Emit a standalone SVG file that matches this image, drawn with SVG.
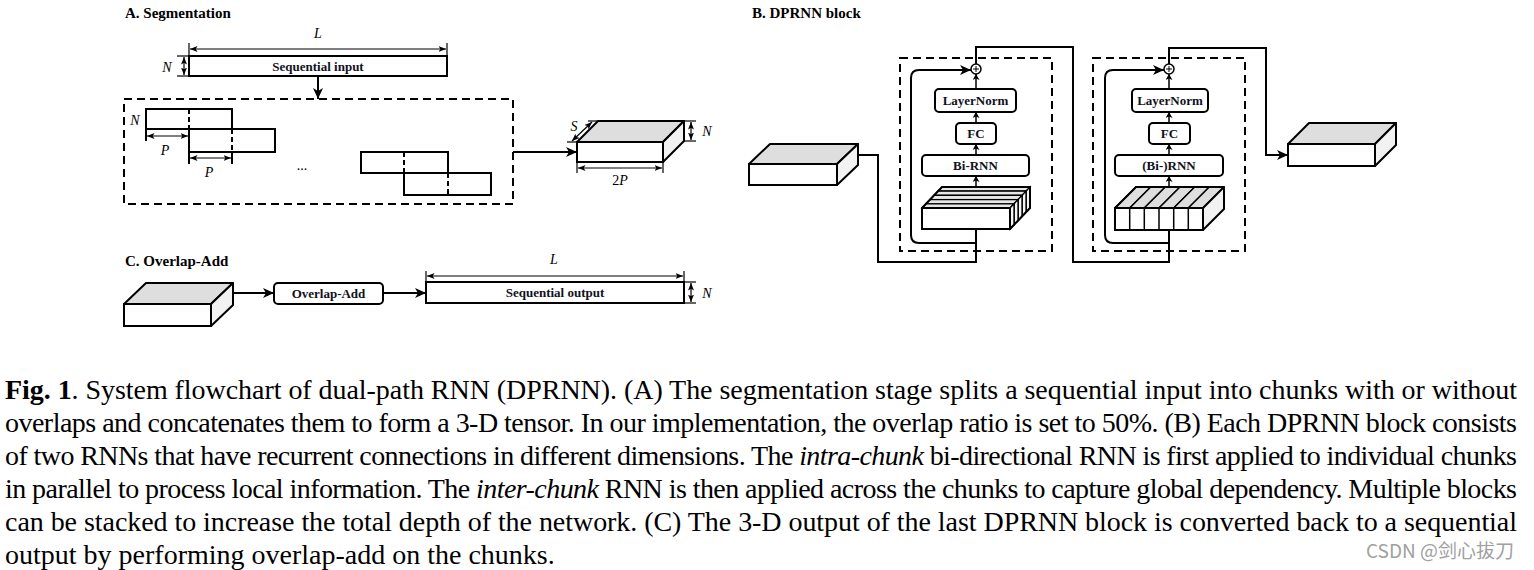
<svg xmlns="http://www.w3.org/2000/svg" width="1534" height="570" viewBox="0 0 1534 570">
  <defs>
    <marker id="arr" markerUnits="userSpaceOnUse" markerWidth="12" markerHeight="10" refX="11" refY="5" orient="auto">
      <path d="M0,0 L11,5 L0,10 L3,5 z" fill="#000"/>
    </marker>
    <marker id="dim" markerUnits="userSpaceOnUse" markerWidth="8" markerHeight="6" refX="7.5" refY="3" orient="auto-start-reverse">
      <path d="M0,0 L7.5,3 L0,6 L1.8,3 z" fill="#000"/>
    </marker>
    <marker id="sm" markerUnits="userSpaceOnUse" markerWidth="7" markerHeight="7" refX="6" refY="3.5" orient="auto">
      <path d="M0,0 L6,3.5 L0,7 L1.5,3.5 z" fill="#000"/>
    </marker>
  </defs>
  <style>
    .title { font-family: "Liberation Serif", "Times New Roman", serif; font-weight: bold; font-size: 15px; }
    .lbl { font-family: "Liberation Serif", "Times New Roman", serif; font-weight: bold; font-size: 13px; text-anchor: middle; fill: #111122; }
    .it { font-family: "Liberation Serif", "Times New Roman", serif; font-style: italic; font-size: 14px; text-anchor: middle; }
    .rm { font-family: "Liberation Serif", "Times New Roman", serif; font-size: 14px; text-anchor: middle; }
    .box { fill: #fff; stroke: #000; stroke-width: 2; }
    .rbox { fill: #fff; stroke: #000; stroke-width: 2; }
    .top { fill: #dedede; stroke: #000; stroke-width: 2; stroke-linejoin: round; }
    .side { fill: #f2f2f2; stroke: #000; stroke-width: 2; stroke-linejoin: round; }
    .slab-top { fill: #e6e6e6; stroke: #000; stroke-width: 1.3; }
    .slab-side { fill: #f4f4f4; stroke: #000; stroke-width: 1.3; }
    .dash { fill: none; stroke: #000; stroke-width: 2; stroke-dasharray: 8 5; }
    .div { stroke: #000; stroke-width: 2; stroke-dasharray: 5 3; }
    .wire { fill: none; stroke: #000; stroke-width: 2; }
    .thin { fill: none; stroke: #000; stroke-width: 1.2; }
    .cap { font-family: "Liberation Serif", "Times New Roman", serif; font-size: 28px; fill: #000; }
    .wm { font-family: "Noto Sans CJK SC", "Noto Sans", sans-serif; font-size: 19px; fill: #a0a0a0; }
  </style>

  <!-- ===== A. Segmentation ===== -->
  <text class="title" x="125" y="18">A. Segmentation</text>

  <g id="seq-input">
    <rect class="box" x="189" y="56" width="258" height="20"/>
    <text class="lbl" x="318" y="71">Sequential input</text>
    <!-- length L -->
    <line class="thin" x1="189" y1="43" x2="189" y2="56"/>
    <line class="thin" x1="447" y1="43" x2="447" y2="56"/>
    <line class="thin" x1="190" y1="49" x2="446" y2="49" marker-start="url(#dim)" marker-end="url(#dim)"/>
    <text class="it" x="318" y="38">L</text>
    <!-- width N -->
    <line class="thin" x1="177" y1="56" x2="189" y2="56"/>
    <line class="thin" x1="177" y1="76" x2="189" y2="76"/>
    <line class="thin" x1="184" y1="57" x2="184" y2="75" marker-start="url(#dim)" marker-end="url(#dim)"/>
    <text class="it" x="167" y="72">N</text>
  </g>

  <g id="chunks">
    <rect class="dash" x="124" y="99" width="389" height="105"/>
    <!-- chunk 1 and 2 -->
    <rect class="box" x="146" y="109" width="86" height="20"/>
    <line class="div" x1="189" y1="109" x2="189" y2="129"/>
    <rect class="box" x="189" y="129" width="86" height="23"/>
    <line class="div" x1="232" y1="129" x2="232" y2="152"/>
    <text class="it" x="135" y="125">N</text>
    <!-- hop size P -->
    <line class="wire" x1="146" y1="129" x2="146" y2="141"/>
    <line class="thin" x1="147" y1="136" x2="188" y2="136" marker-start="url(#dim)" marker-end="url(#dim)"/>
    <text class="it" x="165" y="155">P</text>
    <line class="wire" x1="189" y1="152" x2="189" y2="164"/>
    <line class="wire" x1="232" y1="152" x2="232" y2="164"/>
    <line class="thin" x1="190" y1="158" x2="231" y2="158" marker-start="url(#dim)" marker-end="url(#dim)"/>
    <text class="it" x="209" y="177">P</text>
    <text class="rm" x="302" y="170">...</text>
    <!-- last two chunks -->
    <rect class="box" x="361" y="152" width="87" height="21"/>
    <line class="div" x1="404" y1="152" x2="404" y2="173"/>
    <rect class="box" x="404" y="173" width="87" height="22"/>
    <line class="div" x1="448" y1="173" x2="448" y2="195"/>
  </g>

  <g id="tensor-a">
    <polygon class="top" points="577,142 663,142 684,121 598,121"/>
    <polygon class="side" points="663,142 684,121 684,141 663,162"/>
    <rect class="box" x="577" y="142" width="86" height="20"/>
    <!-- S -->
    <line class="thin" x1="567" y1="142" x2="577" y2="142"/>
    <line class="thin" x1="588" y1="121" x2="598" y2="121"/>
    <line class="thin" x1="572" y1="141" x2="592" y2="122" marker-start="url(#dim)" marker-end="url(#dim)"/>
    <text class="it" x="574" y="131">S</text>
    <!-- N -->
    <line class="thin" x1="684" y1="121" x2="696" y2="121"/>
    <line class="thin" x1="684" y1="141" x2="696" y2="141"/>
    <line class="thin" x1="691" y1="122" x2="691" y2="140" marker-start="url(#dim)" marker-end="url(#dim)"/>
    <text class="it" x="707" y="136">N</text>
    <!-- 2P -->
    <line class="thin" x1="577" y1="162" x2="577" y2="173"/>
    <line class="thin" x1="663" y1="162" x2="663" y2="173"/>
    <line class="thin" x1="578" y1="168" x2="662" y2="168" marker-start="url(#dim)" marker-end="url(#dim)"/>
    <text class="rm" x="620" y="185">2<tspan font-style="italic">P</tspan></text>
  </g>

  <!-- ===== B. DPRNN block ===== -->
  <text class="title" x="752" y="18">B. DPRNN block</text>

  <g id="tensor-in">
    <polygon class="top" points="749,164 837,164 858,144 770,144"/>
    <polygon class="side" points="837,164 858,144 858,165 837,185"/>
    <rect class="box" x="749" y="164" width="88" height="21"/>
  </g>

  <g id="block1">
    <rect class="dash" x="900" y="58" width="152" height="193"/>
    <!-- intra-chunk tensor: slabs stacked in depth -->
    <g>
      <polygon class="slab-top" points="938,191.2 1026,191.2 1030,187 942,187"/>
      <polygon class="slab-side" points="1026,191.2 1030,187 1030,208 1026,212.2"/>
      <rect class="box" x="938" y="191.2" width="88" height="21" style="stroke-width:1.3"/>
      <polygon class="slab-top" points="934,195.4 1022,195.4 1026,191.2 938,191.2"/>
      <polygon class="slab-side" points="1022,195.4 1026,191.2 1026,212.2 1022,216.4"/>
      <rect class="box" x="934" y="195.4" width="88" height="21" style="stroke-width:1.3"/>
      <polygon class="slab-top" points="930,199.6 1018,199.6 1022,195.4 934,195.4"/>
      <polygon class="slab-side" points="1018,199.6 1022,195.4 1022,216.4 1018,220.6"/>
      <rect class="box" x="930" y="199.6" width="88" height="21" style="stroke-width:1.3"/>
      <polygon class="slab-top" points="926,203.8 1014,203.8 1018,199.6 930,199.6"/>
      <polygon class="slab-side" points="1014,203.8 1018,199.6 1018,220.6 1014,224.8"/>
      <rect class="box" x="926" y="203.8" width="88" height="21" style="stroke-width:1.3"/>
      <polygon class="slab-top" points="922,208 1010,208 1014,203.8 926,203.8"/>
      <polygon class="slab-side" points="1010,208 1014,203.8 1014,224.8 1010,229"/>
      <rect class="box" x="922" y="208" width="88" height="21"/>
      <path class="wire" d="M922,208 L942,187 L1030,187 L1030,208 L1010,229"/>
    </g>
    <rect class="rbox" x="922" y="155" width="107" height="21" rx="4"/>
    <text class="lbl" x="975.5" y="170">Bi-RNN</text>
    <rect class="rbox" x="956" y="123" width="40" height="21" rx="4"/>
    <text class="lbl" x="976" y="138">FC</text>
    <rect class="rbox" x="935" y="89" width="81" height="23" rx="4"/>
    <text class="lbl" x="975.5" y="105">LayerNorm</text>
    <circle cx="976" cy="69" r="5" fill="#fff" stroke="#000" stroke-width="1.5"/>
    <path d="M973,69 H979 M976,66 V72" stroke="#000" stroke-width="1"/>
  </g>

  <g id="block2">
    <rect class="dash" x="1093" y="58" width="152" height="193"/>
    <!-- inter-chunk tensor: chunks side by side -->
    <g>
      <polygon class="top" points="1115,208 1129.7,208 1150.7,187 1136,187" style="stroke-width:1.5"/>
      <polygon class="top" points="1129.7,208 1144.3,208 1165.3,187 1150.7,187" style="stroke-width:1.5"/>
      <polygon class="top" points="1144.3,208 1159,208 1180,187 1165.3,187" style="stroke-width:1.5"/>
      <polygon class="top" points="1159,208 1173.7,208 1194.7,187 1180,187" style="stroke-width:1.5"/>
      <polygon class="top" points="1173.7,208 1188.3,208 1209.3,187 1194.7,187" style="stroke-width:1.5"/>
      <polygon class="top" points="1188.3,208 1203,208 1224,187 1209.3,187" style="stroke-width:1.5"/>
      <polygon class="side" points="1203,208 1224,187 1224,209 1203,230"/>
      <rect class="box" x="1115" y="208" width="88" height="22"/>
      <path d="M1129.7,208 V230 M1144.3,208 V230 M1159,208 V230 M1173.7,208 V230 M1188.3,208 V230" stroke="#000" stroke-width="1.5"/>
      <path class="wire" d="M1115,208 L1136,187 L1224,187"/>
    </g>
    <rect class="rbox" x="1115" y="155" width="108" height="21" rx="4"/>
    <text class="lbl" x="1169" y="170">(Bi-)RNN</text>
    <rect class="rbox" x="1149" y="123" width="41" height="21" rx="4"/>
    <text class="lbl" x="1169.5" y="138">FC</text>
    <rect class="rbox" x="1132" y="89" width="76" height="23" rx="4"/>
    <text class="lbl" x="1170" y="105">LayerNorm</text>
    <circle cx="1169" cy="69" r="5" fill="#fff" stroke="#000" stroke-width="1.5"/>
    <path d="M1166,69 H1172 M1169,66 V72" stroke="#000" stroke-width="1"/>
  </g>

  <g id="tensor-out">
    <polygon class="top" points="1288,144 1375,144 1396,123 1309,123"/>
    <polygon class="side" points="1375,144 1396,123 1396,145 1375,166"/>
    <rect class="box" x="1288" y="144" width="87" height="22"/>
  </g>

  <!-- ===== C. Overlap-Add ===== -->
  <text class="title" x="125" y="266">C. Overlap-Add</text>

  <g id="tensor-c">
    <polygon class="top" points="124,304 211,304 233,283 146,283"/>
    <polygon class="side" points="211,304 233,283 233,305 211,326"/>
    <rect class="box" x="124" y="304" width="87" height="22"/>
  </g>

  <g id="overlap-add">
    <rect class="rbox" x="274" y="283" width="109" height="21" rx="4"/>
    <text class="lbl" x="328.5" y="298">Overlap-Add</text>
  </g>

  <g id="seq-output">
    <rect class="box" x="426" y="282" width="258" height="21"/>
    <text class="lbl" x="555" y="297">Sequential output</text>
    <line class="thin" x1="426" y1="271" x2="426" y2="282"/>
    <line class="thin" x1="684" y1="271" x2="684" y2="282"/>
    <line class="thin" x1="427" y1="276" x2="683" y2="276" marker-start="url(#dim)" marker-end="url(#dim)"/>
    <text class="it" x="554" y="264">L</text>
    <line class="thin" x1="684" y1="282" x2="696" y2="282"/>
    <line class="thin" x1="684" y1="303" x2="696" y2="303"/>
    <line class="thin" x1="691" y1="283" x2="691" y2="302" marker-start="url(#dim)" marker-end="url(#dim)"/>
    <text class="it" x="707" y="298">N</text>
  </g>

  <!-- ===== connectors ===== -->
  <g id="connectors">
    <line class="wire" x1="318" y1="76" x2="318" y2="99" marker-end="url(#arr)"/>
    <line class="wire" x1="513" y1="152" x2="577" y2="152" marker-end="url(#arr)"/>
    <!-- block 1 -->
    <path class="wire" d="M858,155 H878 V262 H976 V229"/>
    <path class="wire" d="M976,243 H919 Q911,243 911,235 V78 Q911,70 919,70 H971" marker-end="url(#arr)"/>
    <line class="wire" x1="976" y1="187" x2="976" y2="176" marker-end="url(#sm)" style="stroke-width:1.5"/>
    <line class="wire" x1="976" y1="155" x2="976" y2="144" marker-end="url(#sm)" style="stroke-width:1.5"/>
    <line class="wire" x1="976" y1="123" x2="976" y2="112" marker-end="url(#sm)" style="stroke-width:1.5"/>
    <line class="wire" x1="976" y1="89" x2="976" y2="74" marker-end="url(#sm)" style="stroke-width:1.5"/>
    <path class="wire" d="M976,64 V47 H1073 V262 H1169 V230"/>
    <!-- block 2 -->
    <path class="wire" d="M1169,243 H1113 Q1105,243 1105,235 V78 Q1105,70 1113,70 H1164" marker-end="url(#arr)"/>
    <line class="wire" x1="1169" y1="187" x2="1169" y2="176" marker-end="url(#sm)" style="stroke-width:1.5"/>
    <line class="wire" x1="1169" y1="155" x2="1169" y2="144" marker-end="url(#sm)" style="stroke-width:1.5"/>
    <line class="wire" x1="1169" y1="123" x2="1169" y2="112" marker-end="url(#sm)" style="stroke-width:1.5"/>
    <line class="wire" x1="1169" y1="89" x2="1169" y2="74" marker-end="url(#sm)" style="stroke-width:1.5"/>
    <path class="wire" d="M1169,64 V48 H1266 V155 H1288" marker-end="url(#arr)"/>
    <!-- C -->
    <line class="wire" x1="233" y1="293" x2="274" y2="293" marker-end="url(#arr)"/>
    <line class="wire" x1="383" y1="293" x2="426" y2="293" marker-end="url(#arr)"/>
  </g>

  <!-- ===== caption ===== -->
  <g id="caption">
    <text class="cap" x="5" y="399" textLength="1512" lengthAdjust="spacing"><tspan font-weight="bold">Fig. 1</tspan>.  System flowchart of dual-path RNN (DPRNN). (A) The segmentation stage splits a sequential input into chunks with or without</text>
    <text class="cap" x="5" y="432" textLength="1512" lengthAdjust="spacing">overlaps and concatenates them to form a 3-D tensor. In our implementation, the overlap ratio is set to 50%. (B) Each DPRNN block consists</text>
    <text class="cap" x="5" y="465" textLength="1512" lengthAdjust="spacing">of two RNNs that have recurrent connections in different dimensions. The <tspan font-style="italic">intra-chunk</tspan> bi-directional RNN is first applied to individual chunks</text>
    <text class="cap" x="5" y="498" textLength="1512" lengthAdjust="spacing">in parallel to process local information. The <tspan font-style="italic">inter-chunk</tspan> RNN is then applied across the chunks to capture global dependency. Multiple blocks</text>
    <text class="cap" x="5" y="531" textLength="1512" lengthAdjust="spacing">can be stacked to increase the total depth of the network.  (C) The 3-D output of the last DPRNN block is converted back to a sequential</text>
    <text class="cap" x="5" y="564">output by performing overlap-add on the chunks.</text>
  </g>
  <text class="wm" x="1366" y="558">CSDN @剑心拔刀</text>
</svg>
